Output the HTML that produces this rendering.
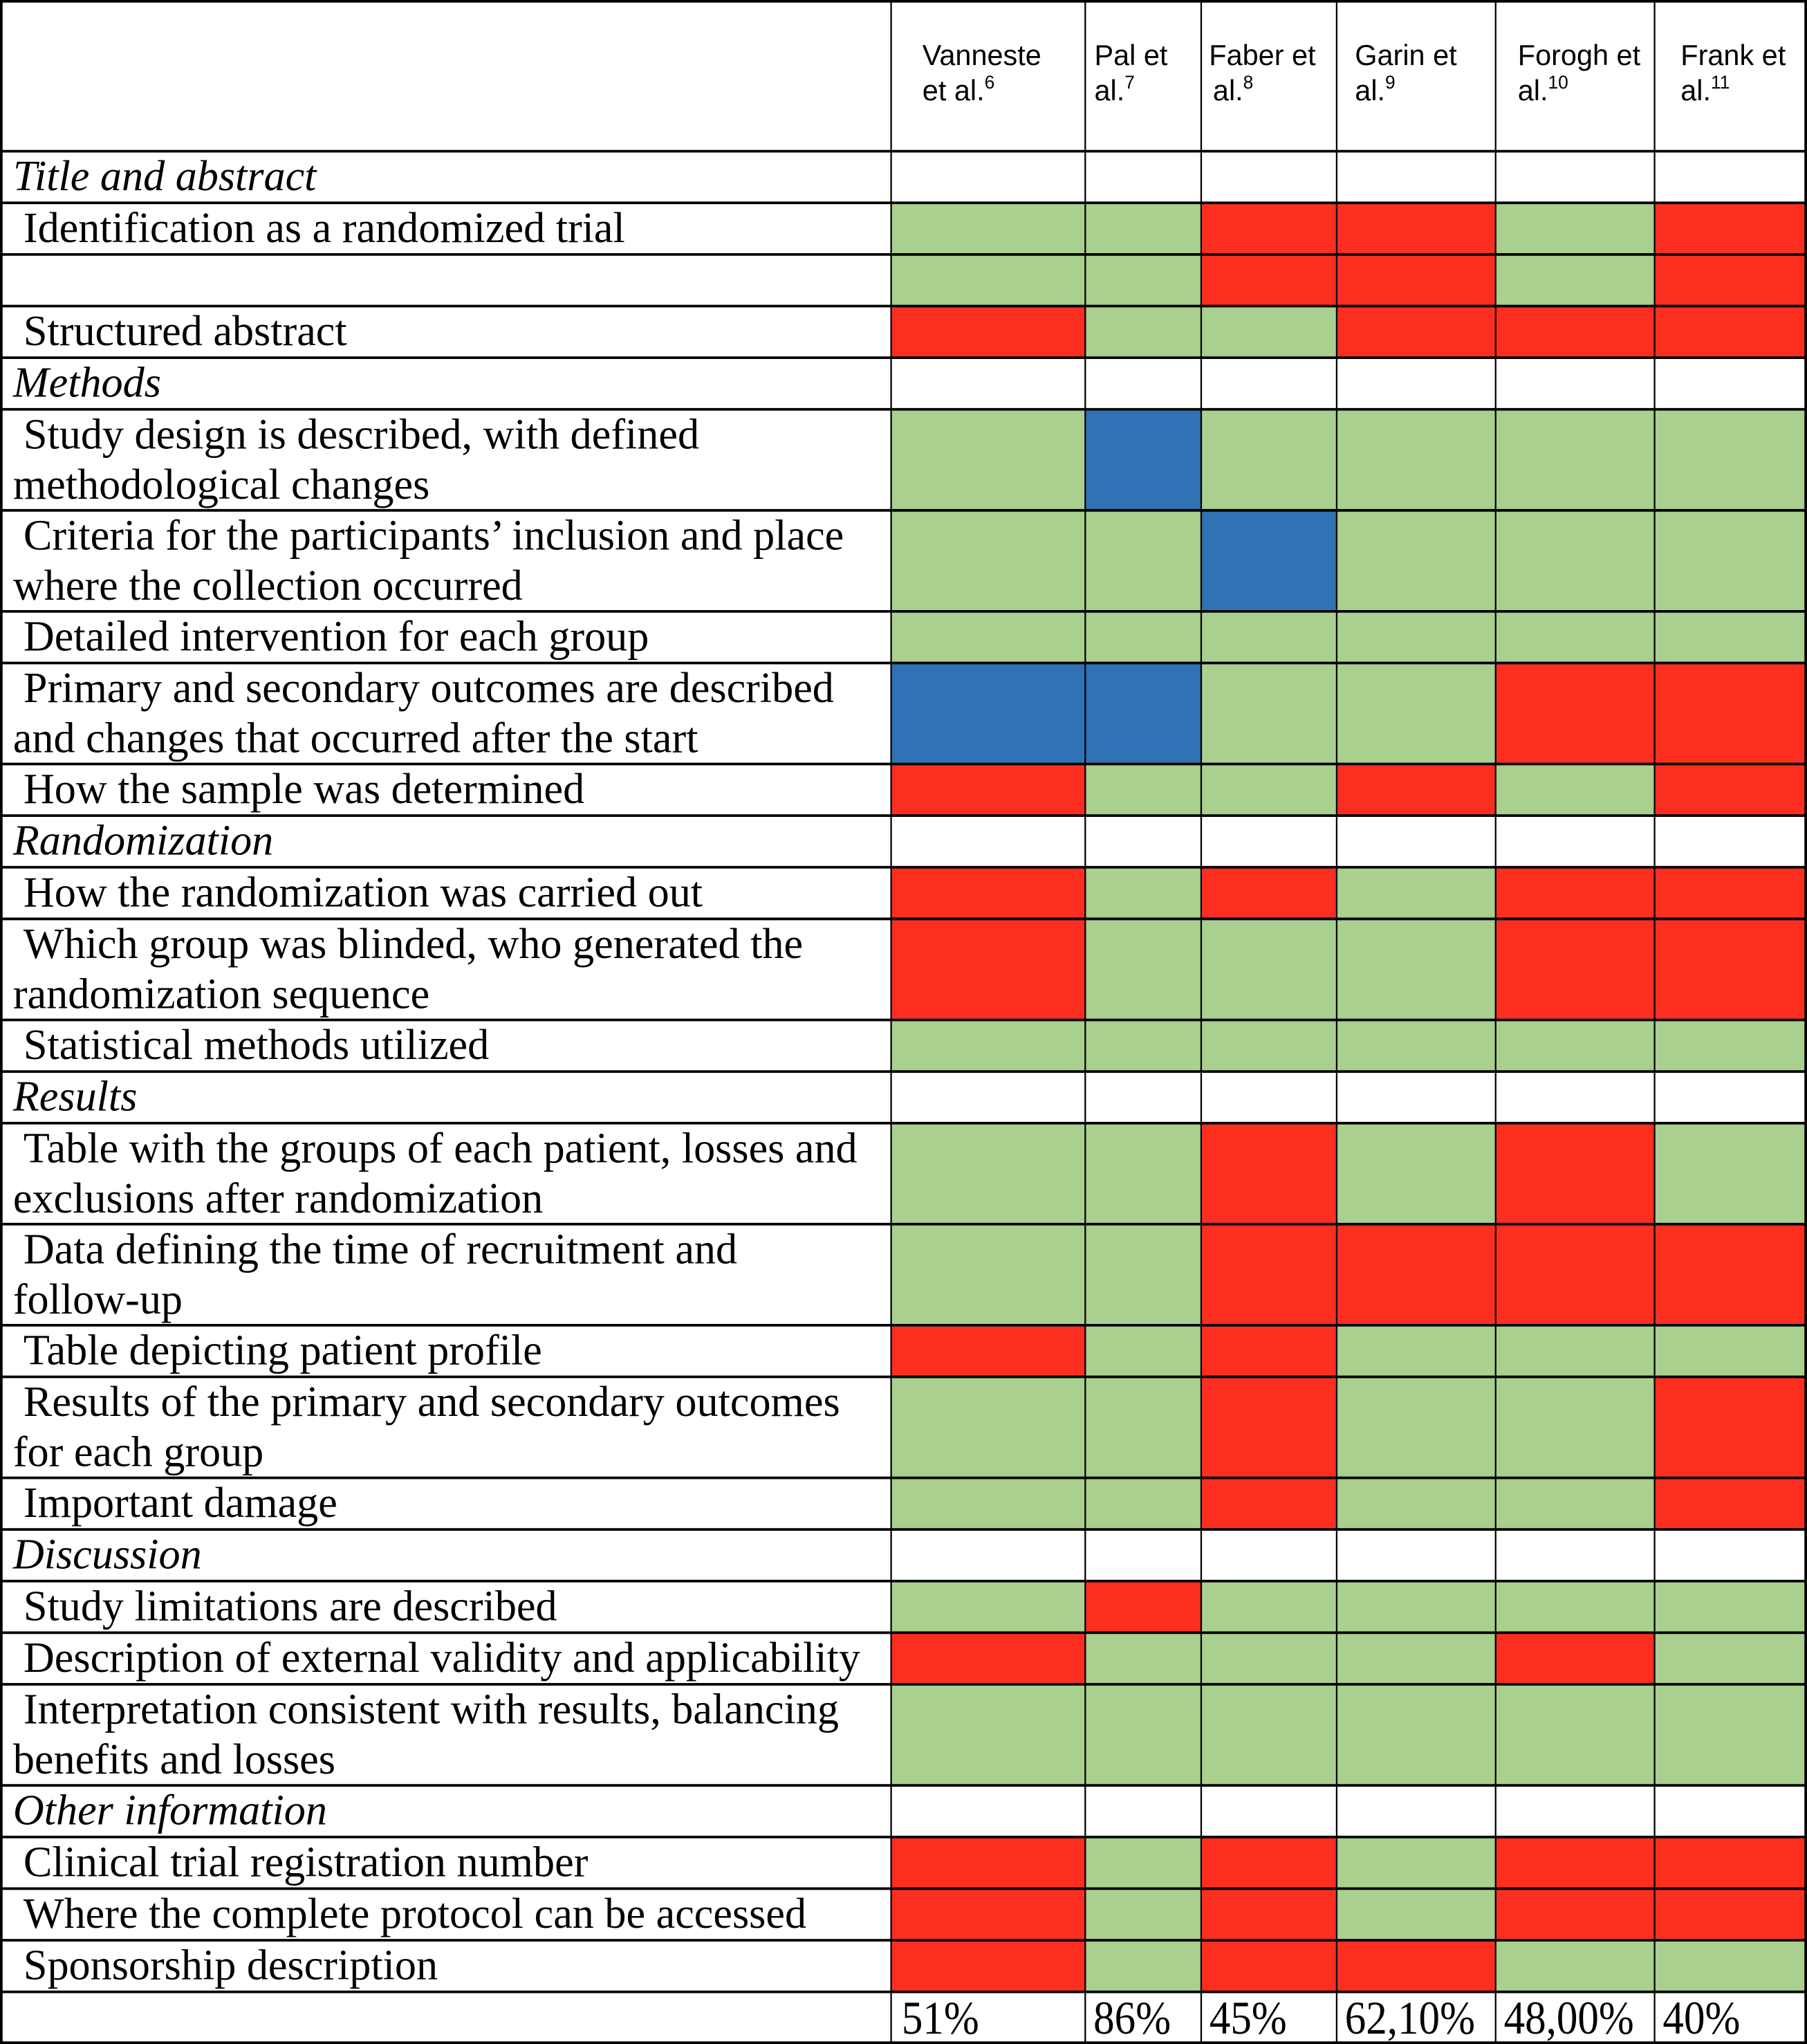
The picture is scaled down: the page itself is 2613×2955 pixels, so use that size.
<!DOCTYPE html>
<html><head><meta charset="utf-8"><style>html,body{margin:0;padding:0;background:#fff}svg{display:block}</style></head>
<body>
<svg id="chart" width="2613" height="2955" viewBox="0 0 1387 1568" preserveAspectRatio="none" xmlns="http://www.w3.org/2000/svg"></svg>
<script>
const studies = ["Vanneste|et al.|6","Pal et|al.|7","Faber et| al.|8","Garin et|al.|9","Forogh et|al.|10","Frank et|al.|11"];
const colEdges = [0,684,833,922,1026,1148,1270,1387];
const rowLabels = [
 ["S","Title and abstract"],
 ["I","Identification as a randomized trial"],
 ["I",""],
 ["I","Structured abstract"],
 ["S","Methods"],
 ["I","Study design is described, with defined|methodological changes"],
 ["I","Criteria for the participants’ inclusion and place|where the collection occurred"],
 ["I","Detailed intervention for each group"],
 ["I","Primary and secondary outcomes are described|and changes that occurred after the start"],
 ["I","How the sample was determined"],
 ["S","Randomization"],
 ["I","How the randomization was carried out"],
 ["I","Which group was blinded, who generated the|randomization sequence"],
 ["I","Statistical methods utilized"],
 ["S","Results"],
 ["I","Table with the groups of each patient, losses and|exclusions after randomization"],
 ["I","Data defining the time of recruitment and|follow-up"],
 ["I","Table depicting patient profile"],
 ["I","Results of the primary and secondary outcomes|for each group"],
 ["I","Important damage"],
 ["S","Discussion"],
 ["I","Study limitations are described"],
 ["I","Description of external validity and applicability"],
 ["I","Interpretation consistent with results, balancing|benefits and losses"],
 ["S","Other information"],
 ["I","Clinical trial registration number"],
 ["I","Where the complete protocol can be accessed"],
 ["I","Sponsorship description"]
];
const ratings = [
 "","GGRRGR","GGRRGR","RGGRRR","","GBGGGG","GGBGGG","GGGGGG","BBGGRR","RGGRGR",
 "","RGRGRR","RGGGRR","GGGGGG","","GGRGRG","GGRRRR","RGRGGG","GGRGGR","GGRGGR",
 "","GRGGGG","RGGGRG","GGGGGG","","RGRGRR","RGRGRR","RGRRGG"
];
const scores = ["51%","86%","45%","62,10%","48,00%","40%"];
const colors = {G:"#a9d08e",R:"#fb2e1f",B:"#2f73b5"};
const svg = document.getElementById('chart');
const NS = "http://www.w3.org/2000/svg";
function mk(tag, attrs){const e=document.createElementNS(NS,tag);for(const k in attrs)e.setAttribute(k,attrs[k]);svg.appendChild(e);return e;}
const headerH = 116, single = 39.6, dbl = 77.5;
let tops=[headerH];
rowLabels.forEach((r,i)=>{const h=r[1].includes('|')?dbl:single;tops.push(tops[i]+h);});
const pctBottom = 1568;
rowLabels.forEach((r,i)=>{
  const code = ratings[i];
  for(let c=0;c<6;c++){
    const fill = code ? colors[code[c]] : "#fff";
    const rc = mk('rect',{x:colEdges[c+1],y:tops[i],width:colEdges[c+2]-colEdges[c+1],height:tops[i+1]-tops[i],fill:fill});
    
    
  }
  const lines = r[1].split('|');
  lines.forEach((ln,j)=>{
    const t = mk('text',{x:(r[0]==="S"||j>0)?10:18,y:tops[i]+30+j*38.5,'font-family':'"Liberation Serif",serif','font-size':33,'font-style':r[0]==="S"?'italic':'normal',fill:'#000'});
    t.textContent = ln;
    
    
  });
});
studies.forEach((s,c)=>{
  const p=s.split('|');
  const x0=colEdges[c+1]+ (c===0?24:(c===2?6:(c===3?14:(c===4?17:(c===5?20:7)))));
  const t1=mk('text',{x:x0,y:50,'font-family':'"Liberation Sans",sans-serif','font-size':22,fill:'#000'});
  t1.textContent=p[0];
  
  
  const t2=mk('text',{x:x0+(c===2?3:0),y:77,'font-family':'"Liberation Sans",sans-serif','font-size':22,fill:'#000'});
  t2.textContent=p[1].trim();
  const sp=document.createElementNS(NS,'tspan');sp.setAttribute('dy','-9');sp.setAttribute('font-size','14');sp.textContent=p[2];t2.appendChild(sp);
  
  
});
scores.forEach((s,c)=>{
  const t=mk('text',{x:colEdges[c+1]+(c===0?9:7),y:1560,'font-family':'"Liberation Serif",serif','font-size':36,fill:'#000'});
  t.setAttribute('transform',`translate(${colEdges[c+1]} 0) scale(0.9 1) translate(${-colEdges[c+1]} 0)`);
  t.textContent=s;
  
  
});
tops.concat([pctBottom]).forEach(y=>{mk('line',{x1:0,x2:1387,y1:y,y2:y,stroke:'#000','stroke-width':2});});
mk('line',{x1:0,x2:1387,y1:1,y2:1,stroke:'#000','stroke-width':2});
mk('line',{x1:0,x2:1387,y1:1567,y2:1567,stroke:'#000','stroke-width':2});
colEdges.forEach((x,i)=>{const xx=i===0?1:(i===7?1386:x);mk('line',{x1:xx,x2:xx,y1:0,y2:1568,stroke:'#000','stroke-width':i===0||i===7?2:1.2});});
</script>
</body></html>
